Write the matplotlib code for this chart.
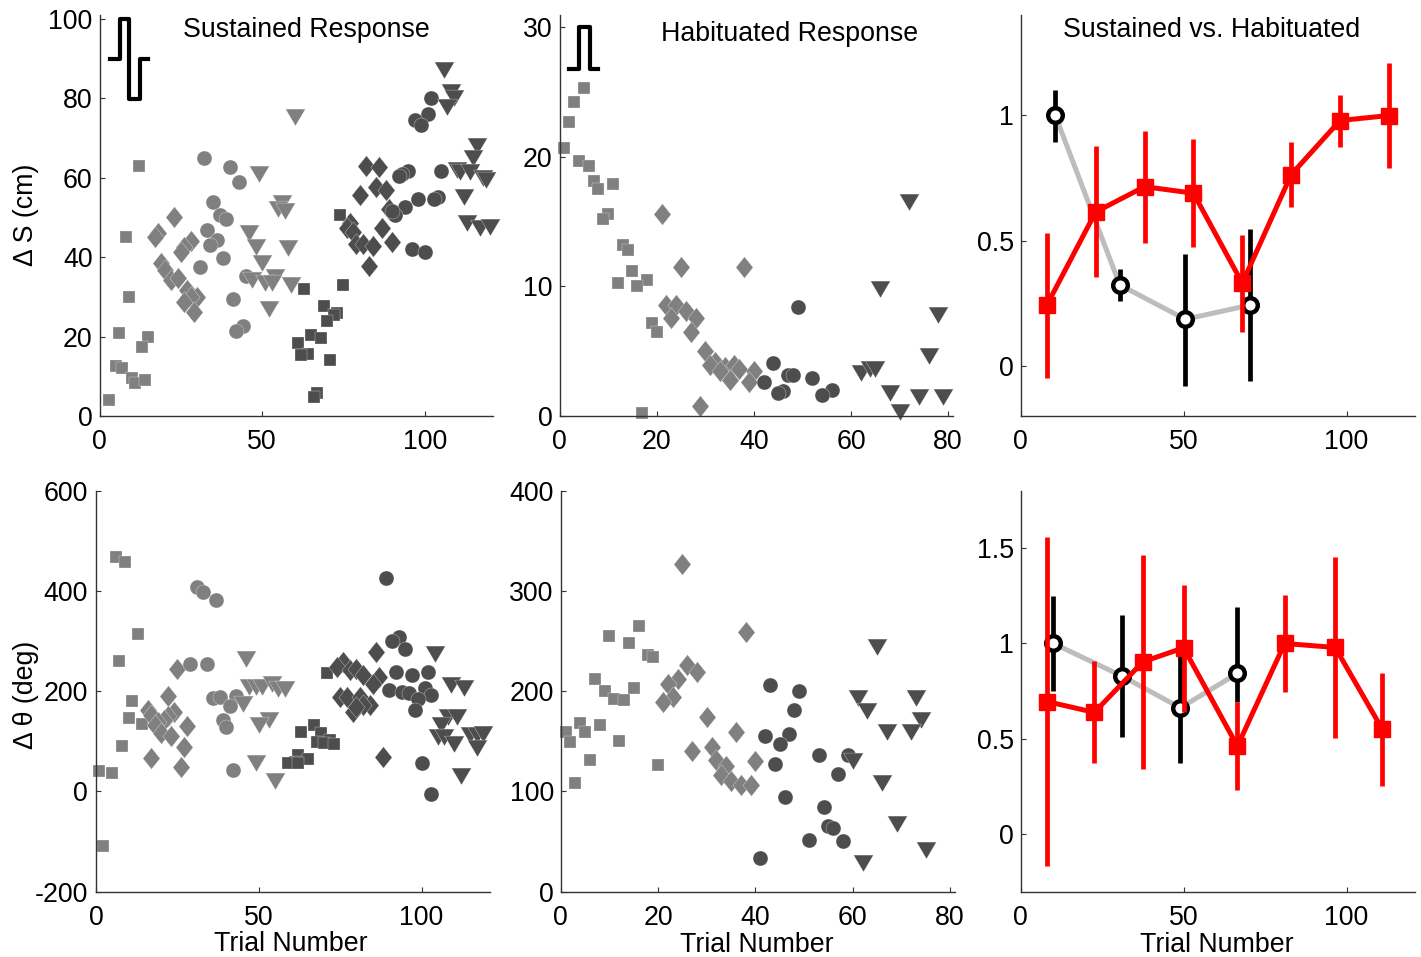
import matplotlib
matplotlib.use('Agg')
import matplotlib.pyplot as plt

plt.rcParams['font.family'] = ['Liberation Sans', 'DejaVu Sans']

# Data: top left, sustained response
a_sq1_x = [3, 12, 8, 9, 6, 15, 13, 5, 7, 10, 11, 14]
a_sq1_y = [4, 63, 45, 30, 21, 20, 17.3, 12.6, 12.2, 9.5, 8.2, 9]
a_di1_x = [23, 18, 17, 28, 26, 25, 19, 20, 22, 24, 27, 30, 28, 26, 29]
a_di1_y = [50, 46, 45, 44, 42.6, 41.3, 38.4, 36.7, 34.2, 34.6, 31.7, 30, 30, 28.8, 26.2]
a_ci1_x = [32, 40, 43, 35, 37, 39, 33, 36, 34, 38, 31, 45, 41, 44, 42]
a_ci1_y = [65, 62.7, 59, 53.8, 50.6, 49.6, 46.7, 44.3, 43, 39.7, 37.6, 35.2, 29.4, 22.6, 21.5]
a_tr1_x = [60, 49, 56, 55, 57, 46, 48, 58, 50, 54, 47, 51, 53, 59, 52]
a_tr1_y = [75.3, 61, 53.5, 52, 51.5, 46, 42.6, 42.2, 38.4, 35, 34.2, 33.4, 33.4, 33, 26.8]
a_sq2_x = [63, 75, 74, 69, 73, 72, 70, 65, 68, 61, 64, 62, 71, 67, 66]
a_sq2_y = [32, 33, 50.7, 27.7, 25.8, 25.4, 24, 20.4, 19.6, 18.3, 15.6, 15.3, 14.2, 5.7, 4.7]
a_di2_x = [82, 86, 85, 88, 80, 77, 76, 78, 87, 79, 81, 84, 90, 83, 89]
a_di2_y = [63, 62.7, 57.7, 56.9, 55.6, 48.5, 47.2, 46.4, 47.2, 43.4, 43.4, 42.8, 43.9, 37.8, 52]
a_ci2_x = [102, 101, 97, 99, 95, 93, 92, 105, 98, 104, 103, 94, 91, 90, 96, 100]
a_ci2_y = [80, 76, 74.6, 73.3, 61.7, 61, 60.5, 61.7, 54.5, 55.2, 54.5, 52.5, 50.6, 51.7, 42, 41.3]
a_tr2_x = [106, 108, 109, 107, 116, 115, 110, 111, 114, 118, 119, 112, 113, 117, 120]
a_tr2_y = [87, 81.6, 80, 77.8, 68, 64.8, 61.8, 61.5, 61.5, 60, 59.4, 55, 48.5, 47.2, 47.5]

# Data: top middle, habituated response
b_sq_x = [1, 2, 3, 5, 4, 6, 7, 8, 11, 10, 9, 13, 14, 15, 18, 12, 16, 19, 20, 17]
b_sq_y = [20.7, 22.7, 24.2, 25.3, 19.7, 19.3, 18.1, 17.5, 17.9, 15.6, 15.2, 13.2, 12.8, 11.2, 10.5, 10.3, 10, 7.2, 6.5, 0.2]
b_di_x = [21, 25, 38, 22, 24, 26, 28, 23, 27, 30, 32, 31, 34, 36, 33, 35, 40, 39, 29, 37]
b_di_y = [15.6, 11.5, 11.5, 8.6, 8.6, 8.1, 7.6, 7.6, 6.5, 5, 4.2, 3.9, 3.8, 3.9, 3.5, 2.8, 3.5, 2.6, 0.8, 3.6]
b_ci_x = [49, 44, 47, 48, 52, 42, 56, 54, 46, 45]
b_ci_y = [8.4, 4.1, 3.2, 3.2, 2.9, 2.6, 2, 1.65, 1.9, 1.8]
b_tr_x = [72, 66, 78, 76, 62, 64, 65, 68, 74, 79, 70]
b_tr_y = [16.5, 9.8, 7.8, 4.6, 3.3, 3.6, 3.6, 1.75, 1.5, 1.5, 0.3]

# Data: bottom left
d_sq1_x = [6, 9, 13, 7, 11, 10, 14, 8, 5, 1, 2]
d_sq1_y = [468, 458, 314, 260, 180, 146, 134, 90, 37, 41, -108]
d_di1_x = [25, 22, 16, 24, 17, 22, 21, 19, 18, 28, 20, 23, 27, 17, 26]
d_di1_y = [244, 191, 163, 159, 152, 150, 142, 139, 132, 130, 116, 110, 89, 66, 48]
d_ci1_x = [31, 33, 37, 29, 34, 36, 38, 43, 41, 39, 40, 42]
d_ci1_y = [407, 397, 381, 254, 255, 187, 189, 191, 170, 142, 129, 42]
d_tr1_x = [46, 47, 49, 51, 54, 56, 58, 45, 53, 50, 49, 55]
d_tr1_y = [265, 209, 209, 209, 215, 205, 205, 175, 142, 132, 56, 21]
d_sq2_x = [71, 67, 63, 69, 72, 68, 70, 73, 62, 65, 61, 59, 62]
d_sq2_y = [236, 132, 119, 116, 102, 99, 96, 94, 72, 64, 59, 57, 56]
d_di2_x = [86, 76, 74, 78, 80, 82, 87, 85, 75, 77, 81, 84, 82, 79, 80, 88]
d_di2_y = [278, 258, 248, 242, 245, 232, 229, 215, 189, 189, 189, 172, 172, 159, 169, 69]
d_ci2_x = [89, 93, 91, 95, 92, 97, 102, 90, 94, 96, 101, 103, 99, 98, 100, 103]
d_ci2_y = [426, 308, 300, 284, 238, 233, 238, 202, 199, 197, 207, 192, 185, 163, 57, -5]
d_tr2_x = [104, 109, 113, 108, 111, 106, 105, 107, 110, 115, 117, 119, 117, 112]
d_tr2_y = [274, 212, 207, 149, 148, 132, 109, 109, 94, 112, 112, 114, 86, 31]

# Data: bottom middle
e_sq_x = [16, 10, 14, 18, 19, 7, 15, 9, 11, 13, 8, 4, 5, 1, 2, 12, 6, 20, 3]
e_sq_y = [265, 255, 248, 236, 234, 212, 203, 200, 192, 191, 166, 168, 159, 159, 149.5, 150, 131, 126, 108]
e_di_x = [25, 38, 26, 28, 24, 22, 23, 21, 30, 36, 27, 31, 40, 32, 34, 33, 35, 37, 39]
e_di_y = [327, 259, 226, 219, 212, 207, 194, 189, 174, 159, 140, 144, 130, 131, 125, 116, 110, 106, 106]
e_ci_x = [43, 49, 48, 47, 42, 45, 53, 59, 44, 57, 46, 54, 55, 56, 58, 51, 41]
e_ci_y = [206, 200, 181, 157, 155, 147, 136, 136, 127, 117, 94, 84, 66, 64, 51, 52, 34]
e_tr_x = [65, 61, 63, 73, 74, 72, 67, 60, 66, 69, 75, 62]
e_tr_y = [244, 193, 180, 193, 171, 159, 159, 130, 108, 68, 42, 29]

# Data: right column, habituated (black) and sustained (red) with error ranges
c_blk_x = [10.6, 30.4, 50.5, 70.5]
c_blk_y = [1.0, 0.323, 0.186, 0.243]
c_blk_hi = [1.10, 0.385, 0.447, 0.545]
c_blk_lo = [0.895, 0.26, -0.08, -0.06]
c_red_x = [8, 23, 38, 53, 68, 83, 98, 113]
c_red_y = [0.242, 0.614, 0.715, 0.689, 0.33, 0.763, 0.979, 0.999]
c_red_hi = [0.53, 0.878, 0.9375, 0.904, 0.523, 0.892, 1.08, 1.21]
c_red_lo = [-0.05, 0.356, 0.49, 0.473, 0.137, 0.632, 0.875, 0.789]

f_blk_x = [10, 31, 49, 66.5]
f_blk_y = [1.0, 0.83, 0.663, 0.843]
f_blk_hi = [1.25, 1.148, 0.94, 1.192]
f_blk_lo = [0.75, 0.508, 0.375, 0.695]
f_red_x = [8, 22.6, 37.5, 50, 66.5, 81, 96.5, 111]
f_red_y = [0.696, 0.639, 0.904, 0.977, 0.462, 1.0, 0.979, 0.55]
f_red_hi = [1.558, 0.908, 1.462, 1.305, 0.695, 1.253, 1.454, 0.843]
f_red_lo = [-0.164, 0.375, 0.345, 0.642, 0.232, 0.747, 0.503, 0.255]

# Stimulus pictograms
pulse_a_x = [3.1, 6.4, 6.4, 9.2, 9.2, 12.3, 12.3, 14.9]
pulse_a_y = [89.8, 89.8, 100, 100, 79.8, 79.8, 89.8, 89.8]
pulse_b_x = [2.05, 4.1, 4.1, 6.2, 6.2, 8]
pulse_b_y = [26.8, 26.8, 30, 30, 26.8, 26.8]

LIGHT = '#808080'
DARK = '#4d4d4d'
SPINE = '#333333'
FS = 19.3

DIAMOND = [(-0.8, 0), (0, 1), (0.8, 0), (0, -1), (-0.8, 0)]
TRIANGLE = [(-1, 0.85), (1, 0.85), (0, -0.85), (-1, 0.85)]
SHAPES = {'sq': ('s', 9.2), 'di': (DIAMOND, 15.5), 'ci': ('o', 10.8), 'tr': (TRIANGLE, 14.3)}

W, H = 1421, 957
fig = plt.figure(figsize=(W / 100, H / 100), dpi=100)


def panel(left, right, top, bottom, xlim, ylim, xticks, yticks, ylabels, ypad=5):
    ax = fig.add_axes([left / W, 1 - bottom / H, (right - left) / W, (bottom - top) / H])
    ax.set_xlim(*xlim)
    ax.set_ylim(*ylim)
    ax.set_xticks(xticks)
    ax.set_yticks(yticks)
    ax.set_yticklabels(ylabels)
    ax.spines['top'].set_visible(False)
    ax.spines['right'].set_visible(False)
    for s in ['left', 'bottom']:
        ax.spines[s].set_linewidth(1.0)
        ax.spines[s].set_color(SPINE)
    ax.tick_params(axis='both', direction='in', length=3.5, width=0.8, color=SPINE, labelsize=FS)
    ax.tick_params(axis='x', pad=9.5)
    ax.tick_params(axis='y', pad=ypad)
    return ax


def dots(ax, x, y, kind, color):
    marker, size = SHAPES[kind]
    ax.plot(x, y, linestyle='none', marker=marker, markersize=size, markerfacecolor=color,
            markeredgecolor='white', markeredgewidth=0.2, clip_on=False)


def ranges(ax, bx, by, bhi, blo, rx, ry, rhi, rlo):
    # black goes first, the red series sits on top of it
    ax.plot(bx, by, color='#bdbdbd', linewidth=3.6, zorder=2)
    ax.vlines(bx, blo, bhi, color='black', linewidth=3.4, zorder=3)
    ax.plot(bx, by, linestyle='none', marker='o', markersize=10.5, markerfacecolor='white',
            markeredgecolor='black', markeredgewidth=3.2, zorder=4)
    ax.vlines(rx, rlo, rhi, color='red', linewidth=3.4, zorder=5)
    ax.plot(rx, ry, color='red', linewidth=3.6, marker='s', markersize=12,
            markeredgecolor='red', zorder=6)


def label(x, y, text, rotation=0):
    fig.text(x / W, 1 - y / H, text, ha='center', va='center', fontsize=FS, rotation=rotation)


ax_a = panel(99.5, 493, 15, 416, (0, 121), (0, 100.9), [0, 50, 100], [0, 20, 40, 60, 80, 100],
             ['0', '20', '40', '60', '80', '100'])
dots(ax_a, a_sq1_x, a_sq1_y, 'sq', LIGHT)
dots(ax_a, a_di1_x, a_di1_y, 'di', LIGHT)
dots(ax_a, a_ci1_x, a_ci1_y, 'ci', LIGHT)
dots(ax_a, a_tr1_x, a_tr1_y, 'tr', LIGHT)
dots(ax_a, a_sq2_x, a_sq2_y, 'sq', DARK)
dots(ax_a, a_di2_x, a_di2_y, 'di', DARK)
dots(ax_a, a_ci2_x, a_ci2_y, 'ci', DARK)
dots(ax_a, a_tr2_x, a_tr2_y, 'tr', DARK)
ax_a.plot(pulse_a_x, pulse_a_y, color='black', linewidth=3, clip_on=False)

ax_b = panel(559.5, 953, 15, 416, (0, 81), (0, 30.95), [0, 20, 40, 60, 80], [0, 10, 20, 30],
             ['0', '10', '20', '30'])
dots(ax_b, b_sq_x, b_sq_y, 'sq', LIGHT)
dots(ax_b, b_di_x, b_di_y, 'di', LIGHT)
dots(ax_b, b_ci_x, b_ci_y, 'ci', DARK)
dots(ax_b, b_tr_x, b_tr_y, 'tr', DARK)
ax_b.plot(pulse_b_x, pulse_b_y, color='black', linewidth=3, clip_on=False)

ax_c = panel(1020.7, 1415, 15, 416, (0, 121), (-0.2, 1.4), [0, 50, 100], [0, 0.5, 1], ['0', '0.5', '1'])
ranges(ax_c, c_blk_x, c_blk_y, c_blk_hi, c_blk_lo, c_red_x, c_red_y, c_red_hi, c_red_lo)

ax_d = panel(96, 490, 490.7, 891.7, (0, 121), (-200, 600), [0, 50, 100], [-200, 0, 200, 400, 600],
             ['-200', '0', '200', '400', '600'], ypad=6)
dots(ax_d, d_sq1_x, d_sq1_y, 'sq', LIGHT)
dots(ax_d, d_di1_x, d_di1_y, 'di', LIGHT)
dots(ax_d, d_ci1_x, d_ci1_y, 'ci', LIGHT)
dots(ax_d, d_tr1_x, d_tr1_y, 'tr', LIGHT)
dots(ax_d, d_sq2_x, d_sq2_y, 'sq', DARK)
dots(ax_d, d_di2_x, d_di2_y, 'di', DARK)
dots(ax_d, d_ci2_x, d_ci2_y, 'ci', DARK)
dots(ax_d, d_tr2_x, d_tr2_y, 'tr', DARK)

ax_e = panel(560.7, 955, 490.7, 891.7, (0, 81), (0, 400), [0, 20, 40, 60, 80], [0, 100, 200, 300, 400],
             ['0', '100', '200', '300', '400'])
dots(ax_e, e_sq_x, e_sq_y, 'sq', LIGHT)
dots(ax_e, e_di_x, e_di_y, 'di', LIGHT)
dots(ax_e, e_ci_x, e_ci_y, 'ci', DARK)
dots(ax_e, e_tr_x, e_tr_y, 'tr', DARK)

ax_f = panel(1020.7, 1415, 490.7, 891.7, (0, 121), (-0.3, 1.8), [0, 50, 100], [0, 0.5, 1, 1.5],
             ['0', '0.5', '1', '1.5'])
ranges(ax_f, f_blk_x, f_blk_y, f_blk_hi, f_blk_lo, f_red_x, f_red_y, f_red_hi, f_red_lo)

# Text
label(306, 30, 'Sustained Response')
label(790, 34, 'Habituated Response')
label(1212, 30, 'Sustained vs. Habituated')
label(291, 944, 'Trial Number')
label(757, 945, 'Trial Number')
label(1217, 945, 'Trial Number')
label(26, 215, '\u0394 S (cm)', rotation=90)
label(26, 695, '\u0394 \u03b8 (deg)', rotation=90)

fig.savefig('out.png', dpi=100)
